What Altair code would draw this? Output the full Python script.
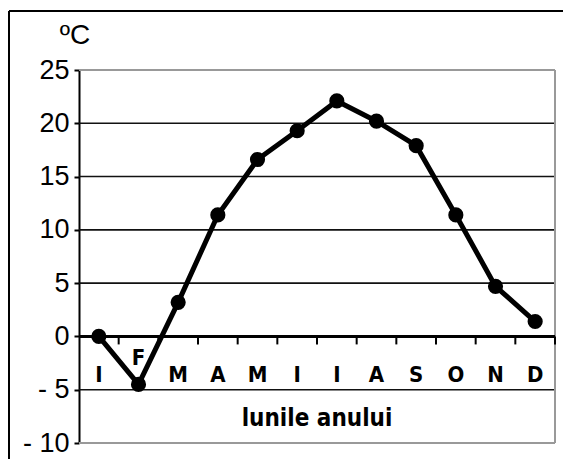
import altair as alt
import pandas as pd

months = ["I", "F", "M", "A", "M", "I", "I", "A", "S", "O", "N", "D"]
temps = [0.0, -4.5, 3.2, 11.4, 16.6, 19.3, 22.1, 20.2, 17.9, 11.4, 4.7, 1.4]
y_ticks = [-10, -5, 0, 5, 10, 15, 20, 25]
inner_grid = [-5, 5, 10, 15, 20]
border_grid = [-10, 25]
boundaries = list(range(1, 13))

df = pd.DataFrame({"idx": list(range(len(months))), "month": months, "temp": temps})
W, H = 476, 373

xs = alt.Scale(domain=[0, 12], nice=False, zero=False)
ys = alt.Scale(domain=[-10, 25], nice=False, zero=False)

yaxis = alt.Axis(values=y_ticks, grid=False, domainColor="black", domainWidth=2,
                 tickColor="black", tickWidth=2, tickSize=5, labelPadding=5,
                 labelFont="Liberation Sans", labelFontSize=27, labelColor="black",
                 labelExpr="datum.value < 0 ? '- ' + abs(datum.value) : datum.value",
                 title=None)


def Y(field):
    return alt.Y(field, scale=ys, axis=yaxis)


def X(field):
    return alt.X(field, scale=xs, axis=None)


base = alt.Chart(df).transform_calculate(pos="datum.idx + 0.5")

grid = alt.Chart(pd.DataFrame({"v": inner_grid})).mark_rule(color="#111", strokeWidth=1.6).encode(
    y=Y("v:Q"))
grid_border = alt.Chart(pd.DataFrame({"v": border_grid})).mark_rule(color="#999", strokeWidth=2).encode(
    y=Y("v:Q"))
right_border = alt.Chart(pd.DataFrame({"v": [12]})).mark_rule(color="#999", strokeWidth=2).encode(
    x=X("v:Q"))
zero = alt.Chart(pd.DataFrame({"v": [0]})).mark_rule(color="black", strokeWidth=3).encode(
    y=Y("v:Q"))
ticks = alt.Chart(pd.DataFrame({"b": boundaries})).transform_calculate(y0="0", y1="-0.75").mark_rule(
    color="black", strokeWidth=2).encode(
    x=X("b:Q"), y=Y("y0:Q"), y2="y1:Q")

line = base.mark_line(color="black", strokeWidth=5).encode(x=X("pos:Q"), y=Y("temp:Q"))
pts = base.mark_point(filled=True, color="black", size=230, opacity=1).encode(
    x=X("pos:Q"), y=Y("temp:Q"))

month_font = "Liberation Sans Narrow, DejaVu Sans Condensed, Arial Narrow, sans-serif"
labels = base.transform_calculate(ly="datum.idx == 1 ? -2.0 : -3.6").mark_text(
    font=month_font, fontWeight="bold", fontSize=22, color="black", baseline="middle").encode(
    x=X("pos:Q"), y=Y("ly:Q"), text="month:N")

xtitle = alt.Chart(pd.DataFrame({"t": ["lunile anului"], "x": [6.0], "y": [-7.75]})).mark_text(
    font=month_font, fontWeight="bold", fontSize=24, color="black", baseline="middle").encode(
    x=X("x:Q"), y=Y("y:Q"), text="t:N")

unit = alt.Chart(pd.DataFrame({"t": ["ºC"]})).mark_text(
    font="Liberation Sans", fontSize=28, color="black", baseline="middle", align="center").encode(
    x=alt.value(-4), y=alt.value(-34), text="t:N")

frame_top = alt.Chart(pd.DataFrame({"a": [0]})).mark_rule(color="black", strokeWidth=2).encode(
    x=alt.value(-70), x2=alt.value(W + 20), y=alt.value(-59))
frame_left = alt.Chart(pd.DataFrame({"a": [0]})).mark_rule(color="black", strokeWidth=2).encode(
    x=alt.value(-70), y=alt.value(-59), y2=alt.value(H + 20))

chart = alt.layer(grid, grid_border, right_border, zero, ticks, line, pts, labels, xtitle, unit,
                  frame_top, frame_left).properties(
    width=W, height=H,
    autosize=alt.AutoSizeParams(type="none"),
    padding={"left": 71, "top": 62, "right": 8, "bottom": 16},
    background="white",
).configure_view(stroke=None)

chart.save("out.html", embed_options={"renderer": "svg", "actions": False})
